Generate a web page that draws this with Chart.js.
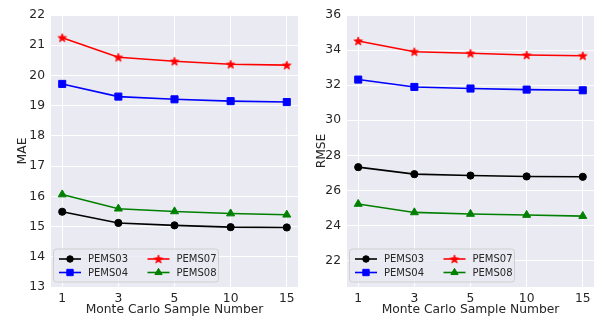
<!DOCTYPE html>
<html>
<head>
<meta charset="utf-8">
<script src="https://cdn.jsdelivr.net/npm/chart.js@4.4.0/dist/chart.umd.min.js"></script>
<style>
body { margin: 0; background: #fff; }
#wrap { display: flex; width: 599px; height: 320px; }
</style>
</head>
<body>
<div id="wrap">
    <canvas id="canvas1" width="300" height="320"></canvas>
    <canvas id="canvas2" width="299" height="320"></canvas>
</div>
<script>
// x axis categories
var sampleNumbers = ['1', '3', '5', '10', '15']
var datasetNames = ['PEMS03', 'PEMS04', 'PEMS07', 'PEMS08']

// MAE per dataset
var mae_pems03 = [15.49, 15.12, 15.04, 14.98, 14.97]
var mae_pems04 = [19.72, 19.30, 19.21, 19.15, 19.12]
var mae_pems07 = [21.25, 20.60, 20.47, 20.37, 20.34]
var mae_pems08 = [16.06, 15.59, 15.50, 15.43, 15.39]

// RMSE per dataset
var rmse_pems03 = [27.33, 26.93, 26.85, 26.80, 26.78]
var rmse_pems04 = [32.32, 31.90, 31.81, 31.75, 31.71]
var rmse_pems07 = [34.52, 33.91, 33.82, 33.72, 33.68]
var rmse_pems08 = [25.23, 24.75, 24.66, 24.60, 24.54]

// y ticks
var maeTicks = [13, 14, 15, 16, 17, 18, 19, 20, 21, 22]
var rmseTicks = [22, 24, 26, 28, 30, 32, 34, 36]

var textColor = '#262626'
Chart.defaults.font.family = 'DejaVu Sans'
Chart.defaults.color = textColor

// filled 5 point star like matplotlib '*'
function makeStar(color)
{
    var c = document.createElement('canvas')
    c.width = 12
    c.height = 12
    var g = c.getContext('2d')
    g.fillStyle = color
    g.strokeStyle = color
    g.lineWidth = 0.8
    g.beginPath()
    for (var i = 0; i < 10; i++)
    {
        var r = i % 2 == 0 ? 4.5 : 1.9
        var a = -Math.PI / 2 + i * Math.PI / 5
        var px = 6 + r * Math.cos(a)
        var py = 6.4 + r * Math.sin(a)
        if (i == 0) g.moveTo(px, py)
        else g.lineTo(px, py)
    }
    g.closePath()
    g.fill()
    g.stroke()
    return c
}

var styles = [
    {color: '#000000', pointStyle: 'circle', radius: 3.6},
    {color: '#0000ff', pointStyle: 'rect', radius: 5},
    {color: '#ff0000', pointStyle: makeStar('#ff0000'), radius: 4},
    {color: '#008000', pointStyle: 'triangle', radius: 4.6}
]

function makeDatasets(series)
{
    return series.map((values, i) => {
        var s = styles[i]
        return {
            label: datasetNames[i],
            data: values.map((v, j) => ({x: j, y: v})),
            borderColor: s.color,
            backgroundColor: s.color,
            borderWidth: 1.6,
            pointStyle: s.pointStyle,
            pointRadius: s.radius,
            pointBorderWidth: 1,
            pointBorderColor: s.color,
            pointBackgroundColor: s.color,
            tension: 0
        }
    })
}

// grey plot background
var plotBackground = {
    id: 'plotBackground',
    beforeDraw: function(chart)
    {
        var a = chart.chartArea
        var ctx = chart.ctx
        ctx.save()
        ctx.fillStyle = '#eaeaf2'
        ctx.fillRect(a.left, a.top, a.right - a.left, a.bottom - a.top)
        ctx.restore()
    }
}

// two column legend in the lower left corner of the plot
var cornerLegend = {
    id: 'cornerLegend',
    afterDraw: function(chart)
    {
        var a = chart.chartArea
        var ctx = chart.ctx
        var bx = a.left + 2.5
        var by = a.bottom - 38
        var bw = 165
        var bh = 33
        ctx.save()
        ctx.beginPath()
        ctx.roundRect(bx, by, bw, bh, 3)
        ctx.fillStyle = 'rgba(234,234,242,0.8)'
        ctx.fill()
        ctx.strokeStyle = '#d0d0d0'
        ctx.lineWidth = 1
        ctx.stroke()
        ctx.font = '10px "DejaVu Sans"'
        ctx.textBaseline = 'middle'
        chart.data.datasets.forEach((ds, i) => {
            var col = Math.floor(i / 2)
            var row = i % 2
            var lx = bx + 5.5 + col * 88.5
            var ly = by + 10 + row * 13.5
            ctx.strokeStyle = ds.borderColor
            ctx.fillStyle = ds.borderColor
            ctx.lineWidth = 1.6
            ctx.beginPath()
            ctx.moveTo(lx, ly)
            ctx.lineTo(lx + 22, ly)
            ctx.stroke()
            ctx.lineWidth = 1
            if (Chart.helpers && Chart.helpers.drawPoint)
            {
                Chart.helpers.drawPoint(ctx, {pointStyle: ds.pointStyle, radius: ds.pointRadius * 0.9, rotation: 0, borderWidth: 1}, lx + 11, ly)
            }
            ctx.fillStyle = textColor
            ctx.fillText(ds.label, lx + 29, ly + 0.5)
        })
        ctx.restore()
    }
}

function makeChart(id, series, yTicks, yMin, yMax, yTitle, axisWidth, padRight, titlePad)
{
    return new Chart(document.getElementById(id).getContext('2d'), {
        type: 'line',
        data: {datasets: makeDatasets(series)},
        plugins: [plotBackground, cornerLegend],
        options: {
            responsive: false,
            animation: false,
            layout: {autoPadding: false, padding: {top: 15, right: padRight, left: 0, bottom: 0}},
            plugins: {legend: {display: false}, tooltip: {enabled: false}},
            scales: {
                x: {
                    type: 'linear',
                    min: -0.2,
                    max: 4.2,
                    grid: {color: '#ffffff', lineWidth: 1, drawTicks: false},
                    border: {display: false},
                    afterBuildTicks: function(scale) {
                        scale.ticks = sampleNumbers.map((s, i) => ({value: i}))
                    },
                    ticks: {
                        autoSkip: false,
                        maxRotation: 0,
                        padding: 4,
                        font: {size: 12.3},
                        color: textColor,
                        callback: function(v) { return sampleNumbers[v] }
                    },
                    title: {display: true, text: 'Monte Carlo Sample Number', color: textColor, font: {size: 12.3}, padding: {top: 0, bottom: 3}},
                    afterFit: function(scale) {
                        scale.height = 33
                        scale.paddingLeft = 0
                        scale.paddingRight = 0
                    }
                },
                y: {
                    min: yMin,
                    max: yMax,
                    grid: {color: '#ffffff', lineWidth: 1, drawTicks: false},
                    border: {display: false},
                    afterBuildTicks: function(scale) {
                        scale.ticks = yTicks.map(v => ({value: v}))
                    },
                    ticks: {
                        padding: 6,
                        font: {size: 12.3},
                        color: textColor
                    },
                    title: {display: true, text: yTitle, color: textColor, font: {size: 12.3}, padding: {top: titlePad, bottom: 0}},
                    afterFit: function(scale) {
                        scale.width = axisWidth
                        scale.paddingTop = 0
                        scale.paddingBottom = 0
                    }
                }
            }
        }
    })
}

const chart1 = makeChart('canvas1', [mae_pems03, mae_pems04, mae_pems07, mae_pems08], maeTicks, 13, 22, 'MAE', 51, 2, 15)
const chart2 = makeChart('canvas2', [rmse_pems03, rmse_pems04, rmse_pems07, rmse_pems08], rmseTicks, 20.5, 36, 'RMSE', 47, 5, 14)
</script>
</body>
</html>
